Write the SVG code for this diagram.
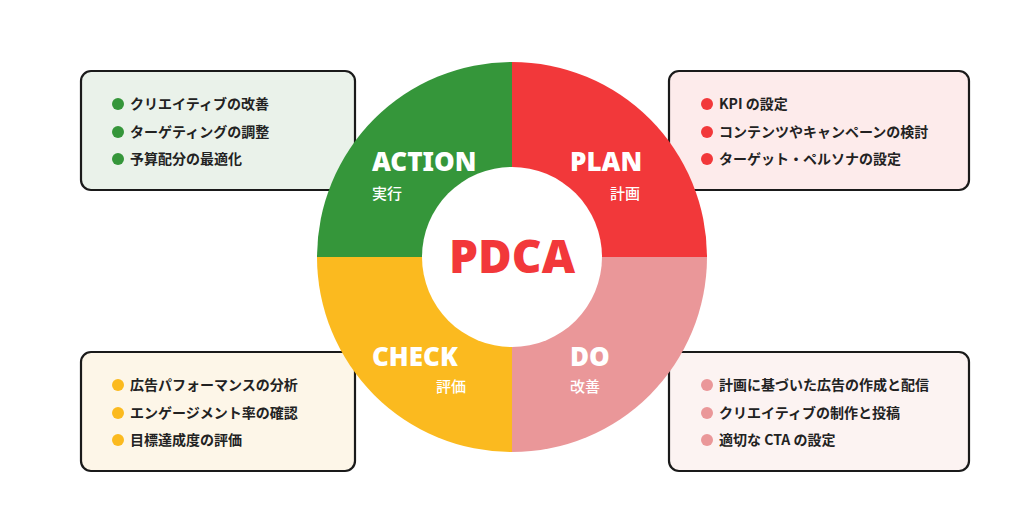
<svg xmlns="http://www.w3.org/2000/svg" width="1024" height="513" viewBox="0 0 1024 513">
<style>
.box{stroke:#1a1a1a;stroke-width:2.2}
.t{font-family:"Noto Sans CJK JP","Noto Sans",sans-serif;font-weight:bold;font-size:14px;fill:#222}
.q{font-family:"Noto Sans","Noto Sans CJK JP",sans-serif;font-weight:900;font-size:26px;fill:#fff}
.s{font-family:"Noto Sans CJK JP",sans-serif;font-weight:500;font-size:15px;fill:#fff}
</style>
<rect width="1024" height="513" fill="#fff"/>
<g id="action-box">
<rect class="box" x="81" y="71" width="274" height="119" rx="10" fill="#EAF2EA"/>
<g fill="#35963A"><circle cx="118" cy="104" r="6"/><circle cx="118" cy="132" r="6"/><circle cx="118" cy="159" r="6"/></g>
<text class="t" x="130" y="109">クリエイティブの改善</text>
<text class="t" x="130" y="137">ターゲティングの調整</text>
<text class="t" x="130" y="164">予算配分の最適化</text>
</g>
<g id="plan-box">
<rect class="box" x="669" y="71" width="300" height="119" rx="10" fill="#FDEBEB"/>
<g fill="#F2383A"><circle cx="707" cy="104" r="6"/><circle cx="707" cy="132" r="6"/><circle cx="707" cy="159" r="6"/></g>
<text class="t" x="719" y="109">KPI の設定</text>
<text class="t" x="719" y="137">コンテンツやキャンペーンの検討</text>
<text class="t" x="719" y="164">ターゲット・ペルソナの設定</text>
</g>
<g id="check-box">
<rect class="box" x="81" y="352" width="274" height="119" rx="10" fill="#FDF6E8"/>
<g fill="#FBBA1F"><circle cx="118" cy="385" r="6"/><circle cx="118" cy="413" r="6"/><circle cx="118" cy="440" r="6"/></g>
<text class="t" x="130" y="390">広告パフォーマンスの分析</text>
<text class="t" x="130" y="418">エンゲージメント率の確認</text>
<text class="t" x="130" y="445">目標達成度の評価</text>
</g>
<g id="do-box">
<rect class="box" x="669" y="352" width="300" height="119" rx="10" fill="#FCF3F2"/>
<g fill="#EA9799"><circle cx="707" cy="385" r="6"/><circle cx="707" cy="413" r="6"/><circle cx="707" cy="440" r="6"/></g>
<text class="t" x="719" y="390">計画に基づいた広告の作成と配信</text>
<text class="t" x="719" y="418">クリエイティブの制作と投稿</text>
<text class="t" x="719" y="445">適切な CTA の設定</text>
</g>
<g id="cycle">
<path d="M512 257 V62 A195 195 0 0 1 707 257 Z" fill="#F2383A"/>
<path d="M512 257 H707 A195 195 0 0 1 512 452 Z" fill="#EA9799"/>
<path d="M512 257 V452 A195 195 0 0 1 317 257 Z" fill="#FBBA1F"/>
<path d="M512 257 H317 A195 195 0 0 1 512 62 Z" fill="#35963A"/>
<circle cx="512" cy="257" r="90" fill="#fff"/>
<text x="512" y="273" text-anchor="middle" font-family="Noto Sans,sans-serif" font-weight="900" font-size="46" fill="#F2383A">PDCA</text>
<text class="q" x="372" y="171">ACTION</text>
<text class="s" x="372" y="199">実行</text>
<text class="q" x="570" y="171">PLAN</text>
<text class="s" x="640" y="199" text-anchor="end">計画</text>
<text class="q" x="372" y="366">CHECK</text>
<text class="s" x="466" y="392" text-anchor="end">評価</text>
<text class="q" x="570" y="366">DO</text>
<text class="s" x="570" y="392">改善</text>
</g>
<g id="connectors"/>
</svg>
